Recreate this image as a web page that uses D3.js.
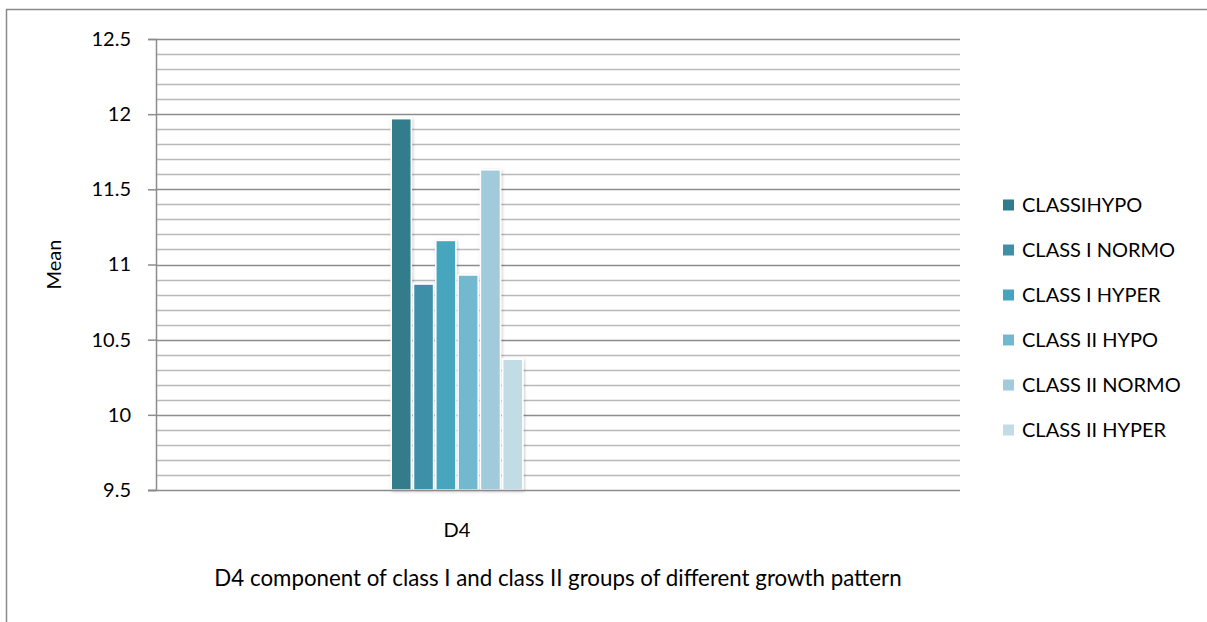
<!DOCTYPE html>
<html>
<head>
<meta charset="utf-8">
<script src="https://cdn.jsdelivr.net/npm/d3@7"></script>
<style>
  html, body { margin: 0; padding: 0; background: #fff; }
  svg { display: block; }
  text { font-family: Lato, "Open Sans", sans-serif; fill: #000; }
</style>
</head>
<body>
<svg id="chart" width="1207" height="622"></svg>
<script>
const categories = ["D4"];
const seriesNames = ["CLASSIHYPO", "CLASS I NORMO", "CLASS I HYPER", "CLASS II HYPO", "CLASS II NORMO", "CLASS II HYPER"];
const seriesValues = [11.97, 10.87, 11.16, 10.93, 11.63, 10.37];
const seriesColors = ["#317B8C", "#3E90A7", "#46A5BE", "#72B8CE", "#A1CADB", "#C2DCE5"];
const yTickValues = [9.5, 10, 10.5, 11, 11.5, 12, 12.5];
const yTickLabels = ["9.5", "10", "10.5", "11", "11.5", "12", "12.5"];
const yMinorStep = 0.1;
const yAxisTitle = "Mean";
const chartTitle = "D4 component of class I and class II groups of different growth pattern";

const FONT = "Lato, 'Open Sans', sans-serif";
const FS = "20px";

const svg = d3.select("#chart");
const W = 1207, H = 622;

// outer chart border
svg.append("rect").attr("x", 6.5).attr("y", 9.5).attr("width", W + 10).attr("height", H + 10)
  .attr("fill", "#fff").attr("stroke", "#8a8a8a").attr("stroke-width", 1.5);

const plotL = 156, plotR = 960, plotT = 39, plotB = 490;

const y = d3.scaleLinear().domain([9.5, 12.5]).range([plotB, plotT]);
const x = d3.scaleBand().domain(categories).range([plotL, 758]);

const defs = svg.append("defs");
const f = defs.append("filter").attr("id", "shadow").attr("x", "-30%").attr("y", "-10%").attr("width", "160%").attr("height", "120%");
f.append("feDropShadow").attr("dx", 1).attr("dy", 1).attr("stdDeviation", 1.5).attr("flood-color", "#000").attr("flood-opacity", 0.22);

// minor gridlines
const minorTicks = d3.range(9.5, 12.5 + 1e-9, yMinorStep).map(v => +v.toFixed(2))
  .filter(v => !yTickValues.some(t => Math.abs(t - v) < 1e-6));
svg.append("g").selectAll("line").data(minorTicks).join("line")
  .attr("x1", plotL).attr("x2", plotR)
  .attr("y1", d => Math.round(y(d)) + 0.5).attr("y2", d => Math.round(y(d)) + 0.5)
  .attr("stroke", "#b9b9b9").attr("stroke-width", 1.5);

// major gridlines
svg.append("g").selectAll("line").data(yTickValues.slice(1)).join("line")
  .attr("x1", plotL).attr("x2", plotR)
  .attr("y1", d => Math.round(y(d)) + 0.5).attr("y2", d => Math.round(y(d)) + 0.5)
  .attr("stroke", "#8c8c8c").attr("stroke-width", 1.5);

// y axis
const yAxis = d3.axisLeft(y).tickValues(yTickValues)
  .tickFormat((d, i) => yTickLabels[i]).tickSize(8).tickPadding(17);
const gy = svg.append("g").attr("transform", `translate(${plotL},0)`).call(yAxis);
gy.select(".domain").attr("stroke", "#8c8c8c").attr("stroke-width", 1.5);
gy.selectAll(".tick line").attr("stroke", "#8c8c8c").attr("stroke-width", 1.5);
gy.selectAll(".tick text").style("font-size", FS).style("font-family", FONT).attr("fill", "#000");

// bars
const groupW = 22.3 * 6;
const bx = d3.scaleBand().domain(seriesNames)
  .range([x(categories[0]) + x.bandwidth() / 2 - groupW / 2, x(categories[0]) + x.bandwidth() / 2 + groupW / 2])
  .paddingInner(0.1).paddingOuter(0.05);
svg.append("g").selectAll("rect").data(seriesNames).join("rect")
  .attr("x", d => bx(d))
  .attr("width", bx.bandwidth())
  .attr("y", (d, i) => y(seriesValues[i]))
  .attr("height", (d, i) => plotB - y(seriesValues[i]))
  .attr("fill", (d, i) => seriesColors[i])
  .attr("stroke", "#fff").attr("stroke-width", 1.5)
  .attr("filter", "url(#shadow)");

// x axis line
svg.append("line").attr("x1", 148).attr("x2", plotR)
  .attr("y1", plotB + 0.5).attr("y2", plotB + 0.5)
  .attr("stroke", "#8c8c8c").attr("stroke-width", 1.5);

// category label
svg.append("g").selectAll("text").data(categories).join("text")
  .attr("x", d => x(d) + x.bandwidth() / 2).attr("y", 537)
  .attr("text-anchor", "middle").style("font-size", FS).text(d => d);

// axis title
svg.append("text").attr("transform", `translate(61,${(plotT + plotB) / 2}) rotate(-90)`)
  .attr("text-anchor", "middle").style("font-size", FS).text(yAxisTitle);

// chart title (x-axis title)
svg.append("text").attr("x", (plotL + plotR) / 2).attr("y", 586)
  .attr("text-anchor", "middle").style("font-size", "22.3px").text(chartTitle);

// legend
const lg = svg.append("g");
seriesNames.forEach((name, i) => {
  const cy = 205 + i * 45;
  lg.append("rect").attr("x", 1003).attr("y", cy - 5.5).attr("width", 11).attr("height", 11).attr("fill", seriesColors[i]);
  lg.append("text").attr("x", 1022).attr("y", cy).attr("dy", "0.35em").style("font-size", FS).text(name);
});
</script>
</body>
</html>
